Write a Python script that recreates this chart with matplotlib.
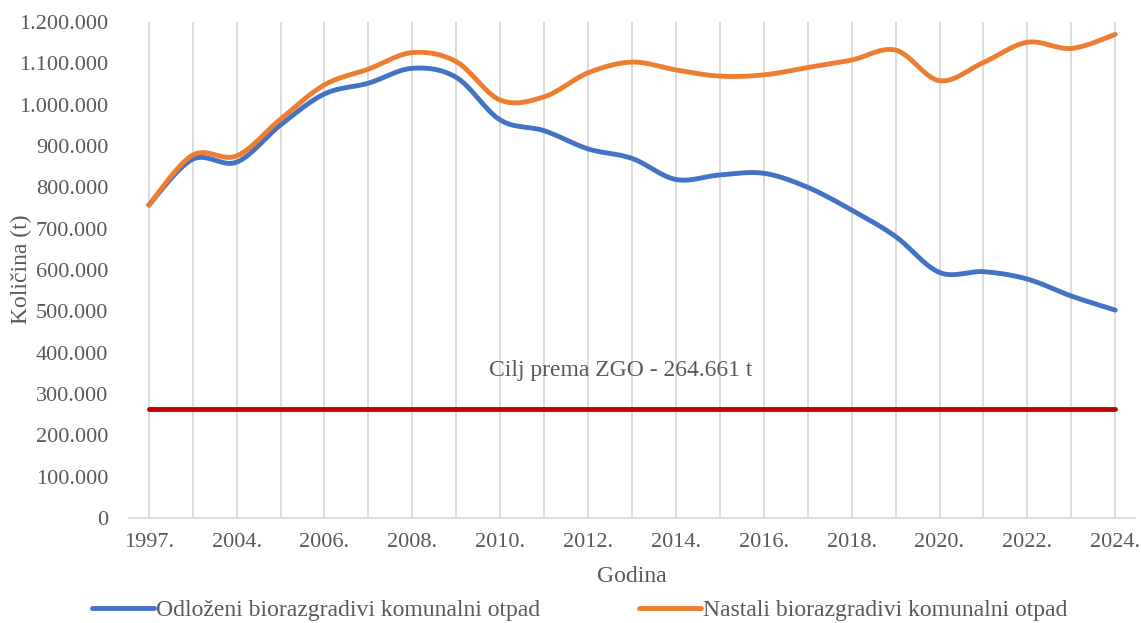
import numpy as np
import matplotlib
matplotlib.use("Agg")
import matplotlib.pyplot as plt
from matplotlib.ticker import FuncFormatter

years = ["1997.", "2003.", "2004.", "2005.", "2006.", "2007.", "2008.", "2009.",
         "2010.", "2011.", "2012.", "2013.", "2014.", "2015.", "2016.", "2017.",
         "2018.", "2019.", "2020.", "2021.", "2022.", "2023.", "2024."]
odlozeni = [757000, 868000, 861000, 951000, 1026000, 1052000, 1088000, 1066000,
            963000, 937000, 893000, 870000, 819000, 830000, 834000, 800000,
            745000, 681000, 594000, 596000, 578000, 537000, 503000]
nastali = [757000, 878000, 876000, 965000, 1048000, 1086000, 1126000, 1104000,
           1011000, 1019000, 1077000, 1103000, 1084000, 1069000, 1072000, 1090000,
           1108000, 1132000, 1058000, 1102000, 1151000, 1136000, 1170000]
cilj = 264661

plt.rcParams['font.family'] = ['Liberation Serif', 'DejaVu Serif']
grey = '#595959'
fs = 17


def smooth(y, n=30):
    # Excel-like smoothed line (cardinal Bezier through the points)
    y = np.asarray(y, dtype=float)
    x = np.arange(len(y), dtype=float)
    xs, ys = [], []
    for i in range(len(y) - 1):
        x0, y0 = (x[i - 1], y[i - 1]) if i > 0 else (x[i], y[i])
        x3, y3 = (x[i + 2], y[i + 2]) if i + 2 < len(y) else (x[i + 1], y[i + 1])
        p0 = np.array([x[i], y[i]])
        p3 = np.array([x[i + 1], y[i + 1]])
        c1 = p0 + (p3 - np.array([x0, y0])) / 6
        c2 = p3 - (np.array([x3, y3]) - p0) / 6
        t = np.linspace(0, 1, n)[:, None]
        pts = (1 - t) ** 3 * p0 + 3 * (1 - t) ** 2 * t * c1 + 3 * (1 - t) * t ** 2 * c2 + t ** 3 * p3
        xs.extend(pts[:, 0])
        ys.extend(pts[:, 1])
    return np.array(xs), np.array(ys)


fig = plt.figure(figsize=(11.41, 6.23), dpi=100)
ax = fig.add_axes([129 / 1141, 1 - 518 / 623, (1135 - 129) / 1141, (518 - 22) / 623])

xs = np.arange(len(years))
for xv in xs:
    ax.axvline(xv, color='#d9d9d9', lw=1.3, zorder=0)

ax.plot([0, len(years) - 1], [cilj, cilj], color='#c00000', lw=3.5, solid_capstyle='round', zorder=2)

sx, sy = smooth(odlozeni)
ax.plot(sx, sy, color='#4472c4', lw=3.5, solid_capstyle='round', zorder=3,
        label='Odloženi biorazgradivi komunalni otpad')
sx, sy = smooth(nastali)
ax.plot(sx, sy, color='#ed7d31', lw=3.5, solid_capstyle='round', zorder=4,
        label='Nastali biorazgradivi komunalni otpad')

ax.text(10.75, 358000, 'Cilj prema ZGO - 264.661 t', color=grey, fontsize=fs,
        ha='center', va='center')

ax.set_xlim(-0.45, 22.45)
ax.set_ylim(0, 1200000)
ax.set_yticks(np.arange(0, 1200001, 100000))
ax.yaxis.set_major_formatter(FuncFormatter(lambda v, p: f"{int(v):,}".replace(",", ".")))
ax.set_xticks(xs[::2])
ax.set_xticklabels(years[::2])
ax.tick_params(axis='both', length=0, labelsize=16, labelcolor=grey)
ax.tick_params(axis='x', pad=11)
ax.tick_params(axis='y', pad=15)
for s in ['top', 'right', 'left']:
    ax.spines[s].set_visible(False)
ax.spines['bottom'].set_color('#d9d9d9')
ax.spines['bottom'].set_linewidth(1.3)

ax.set_xlabel('Godina', fontsize=fs, color=grey, labelpad=10)
fig.text(21 / 1141, 1 - 269 / 623, 'Količina (t)', fontsize=fs, color=grey,
         rotation=90, ha='center', va='center')

fig.legend(loc='center', bbox_to_anchor=(580 / 1141, 1 - 610 / 623), ncol=2, frameon=False,
           fontsize=fs, labelcolor=grey, handlelength=2.6, handletextpad=0.1,
           columnspacing=4.2)

fig.savefig('out.png', dpi=100)
